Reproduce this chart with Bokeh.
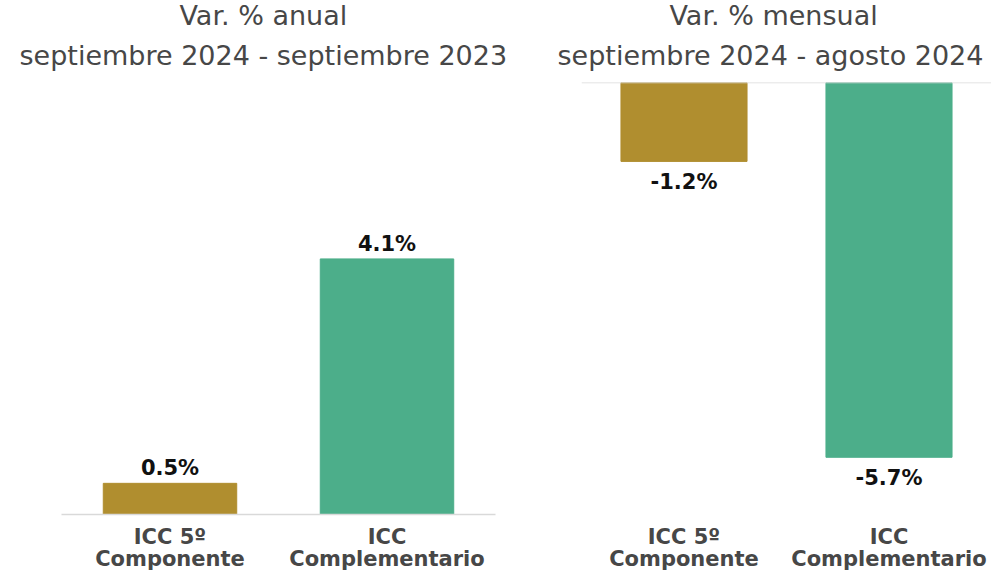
from bokeh.plotting import figure
from bokeh.models import Range1d, FactorRange, Span, ColumnDataSource, Title
from bokeh.layouts import row
from bokeh.embed import file_html
from bokeh.resources import INLINE
from bokeh.core.properties import value

# ---- data ----
categories = ["ICC 5º\nComponente", "ICC\nComplementario"]
anual_values = [0.5, 4.1]
anual_labels = ["0.5%", "4.1%"]
mensual_values = [-1.2, -5.7]
mensual_labels = ["-1.2%", "-5.7%"]
bar_colors = ["#B08E2F", "#4CAE8A"]

anual_title = ["Var. % anual", "septiembre 2024 - septiembre 2023"]
mensual_title = ["Var. % mensual", "septiembre 2024 - agosto 2024"]

FONT = "DejaVu Sans"
TXT = "#474747"
BASE = "#d9d9d9"


def make_panel(width, vals, labels, titles, y_range, border_left, border_right,
               positive, title_offsets):
    src = ColumnDataSource(dict(cat=categories, val=vals, lab=labels, color=bar_colors))
    p = figure(width=width, height=574, x_range=FactorRange(*categories, range_padding=0),
               y_range=y_range, output_backend="svg", toolbar_location=None,
               min_border_left=border_left, min_border_right=border_right,
               min_border_top=82, min_border_bottom=59)
    p.vbar(x="cat", top="val", bottom=0, width=0.615, color="color", source=src)
    p.text(x="cat", y="val", text="lab", source=src, text_align="center",
           text_baseline="alphabetic", y_offset=(-15 if positive else 21),
           text_font=value(FONT), text_font_style="bold", text_font_size="21px",
           text_color="#111111")
    p.yaxis.visible = False
    p.xgrid.visible = False
    p.ygrid.visible = False
    p.outline_line_color = None
    p.xaxis.major_tick_line_color = None
    p.xaxis.minor_tick_line_color = None
    p.xaxis.major_label_standoff = 4
    p.xaxis.major_label_text_font = FONT
    p.xaxis.major_label_text_font_style = "bold"
    p.xaxis.major_label_text_font_size = "21px"
    p.xaxis.major_label_text_color = TXT
    p.xaxis.major_label_text_line_height = 0.94
    if positive:
        p.xaxis.axis_line_color = BASE
        p.xaxis.axis_line_width = 1.5
    else:
        p.xaxis.axis_line_color = None
        p.add_layout(Span(location=0, dimension="width", line_color=BASE, line_width=1.5))
    # second line first (closest to the plot), then the first line above it
    p.add_layout(Title(text=titles[1], align="left", offset=title_offsets[1], standoff=24,
                       text_font=FONT, text_font_style="normal", text_font_size="27px",
                       text_color=TXT), "above")
    p.add_layout(Title(text=titles[0], align="left", offset=title_offsets[0], standoff=-13,
                       vertical_align="middle",
                       text_font=FONT, text_font_style="normal", text_font_size="27px",
                       text_color=TXT), "above")
    return p


left = make_panel(520, anual_values, anual_labels, anual_title,
                  Range1d(0, 6.93), 61, 25, True, (118, -42))
right = make_panel(471, mensual_values, mensual_labels, mensual_title,
                   Range1d(-6.57, 0), 61, 0, False, (88, -24))

layout = row(left, right)
open("out.html", "w").write(file_html(layout, INLINE))
